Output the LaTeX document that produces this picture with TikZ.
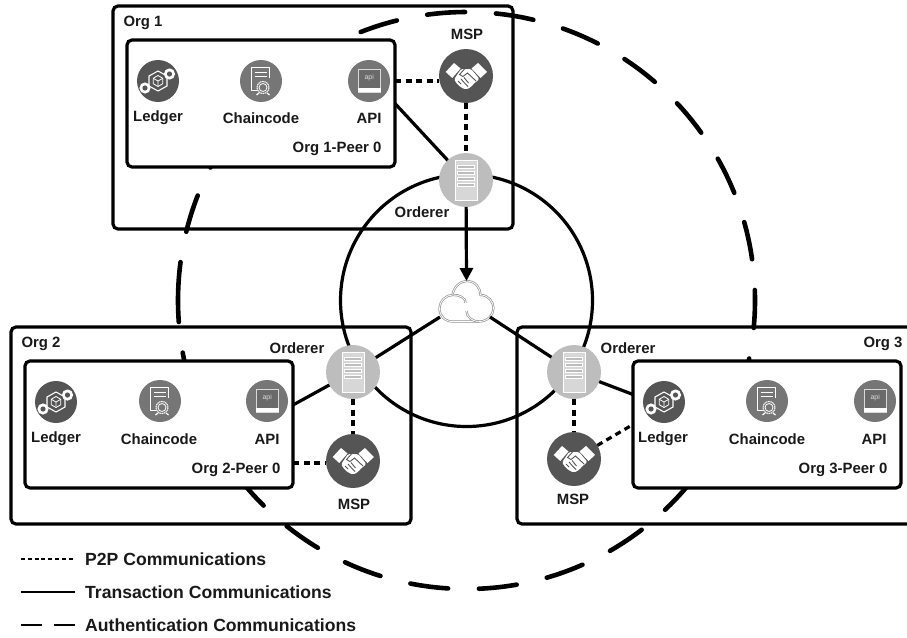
\documentclass[tikz,border=0pt]{standalone}
\usepackage{fontspec}
\setmainfont{Liberation Sans}
\usetikzlibrary{arrows.meta,shapes.geometric}
\definecolor{icondark}{HTML}{555555}
\definecolor{iconmid}{HTML}{767676}
\definecolor{iconpale}{HTML}{BDBDBD}
\tikzset{
  lbl/.style={font=\bfseries\fontsize{14.9}{16}\selectfont,text=black!90,inner sep=0pt},
  keylbl/.style={lbl,font=\bfseries\fontsize{17.6}{19}\selectfont,anchor=west},
  orgbox/.style={draw,line width=3.2pt,rounded corners=5pt,anchor=north west,inner sep=0pt,outer sep=0pt},
  peerbox/.style={orgbox,fill=white},
  iconnode/.style={circle,inner sep=0pt,outer sep=0pt,minimum size=#1},
  ledgernode/.style={iconnode=42pt,fill=icondark},
  codenode/.style={iconnode=42pt,fill=iconmid},
  apinode/.style={iconnode=42pt,fill=iconmid},
  mspnode/.style={iconnode=54pt,fill=icondark},
  ordnode/.style={iconnode=54pt,fill=iconpale},
  p2pline/.style={line width=3.2pt,dash pattern=on 6pt off 4.5pt},
  txline/.style={line width=3.2pt},
  authline/.style={line width=4.6pt,line cap=round,dash pattern=on 38pt off 30.88pt},
  ledgeric/.pic={
    \draw[white,line width=1.1pt] (0,-10) -- (9,-5) -- (9,5) -- (0,10) -- (-9,5) -- (-9,-5) -- cycle;
    \draw[white,line width=.8pt] (0,-5.5) -- (4.8,-2.7) -- (4.8,2.7) -- (0,5.5) -- (-4.8,2.7) -- (-4.8,-2.7) -- cycle;
    \draw[white,line width=.8pt] (-4.8,-2.7) -- (0,0) -- (4.8,-2.7) (0,0) -- (0,5.5);
    \fill[white] (-13,7) circle (5.6);
    \fill[icondark] (-13,7) circle (2.6);
    \fill[white] (11.5,-7) circle (5.6);
    \fill[icondark] (11.5,-7) circle (2.6);
  },
  codeic/.pic={
    \draw[white,line width=1pt,line join=round] (8.5,-3) -- (8.5,-14) -- (-9.5,-14) -- (-9.5,9.5) -- (-4,9.5);
    \draw[white,line width=1pt] (-6.5,-9) -- (6,-9) (-6.5,-5) -- (6,-5);
    \draw[white,line width=1pt,dash pattern=on 1.5pt off .6pt] (2,6.5) circle (6);
    \draw[white,line width=.8pt] (2,6.5) circle (4);
    \draw[white,line width=1.2pt] (-2,12) -- (-4.5,14) (6,12) -- (8.5,14);
  },
  apiic/.pic={
    \draw[white!85!black,line width=.8pt,fill=iconmid!90!black] (-11,-12) rectangle (11.5,11);
    \fill[white] (-11.4,6.5) rectangle (11.9,11.4);
    \node[font=\fontsize{7}{8}\selectfont,text=white!85!black,inner sep=0pt] (apilbl) at (.2,-3) {api};
  },
  mspic/.pic={
    \fill[white] (-12,-13) -- (-5.5,-7.5) -- (-13.7,2) -- (-20.3,-4) -- cycle;
    \fill[white] (12,-13) -- (5.5,-7.5) -- (14.5,2) -- (21,-4) -- cycle;
    \fill[white,rounded corners=1.5pt] (-5,-7) -- (5,-7) -- (13.5,3) -- (8,7.5) -- (5,11) -- (0,13.5) -- (-4,12) -- (-8,9) -- (-12,3.5) -- cycle;
    \draw[icondark,line width=.9pt] (-1,-7.5) -- (-6.5,-1.5) -- (-3,.5) -- (1.5,-3) -- (10,5);
    \draw[icondark,line width=.9pt] (-8,5) -- (-5,8) (-5,3) -- (-1,7.5) (-2,1.5) -- (2.5,7) (2,10.5) -- (-2,6.5);
  },
  ordic/.pic={
    \draw[white,line width=1pt,fill=iconpale!60!white] (-11,-19.5) rectangle (11,20);
    \foreach \slot in {-13.5,-7.5,-1.5,4.5}
      \draw[white,line width=.8pt,fill=iconpale] (-8.5,\slot-1.6) rectangle (8.5,\slot+1.6);
  },
  cloudic/.pic={
    \draw[gray!85,double=white,line width=.7pt,double distance=.8pt]
      (-13,19.5) .. controls (-22,20) and (-27,13) .. (-27,7.5)
      .. controls (-27,-2) and (-20,-7) .. (-14,-7)
      .. controls (-13,-15) and (-6,-21) .. (0,-21)
      .. controls (9,-21) and (14,-14) .. (14,-7)
      .. controls (22,-7) and (27,0) .. (27,6)
      .. controls (27,13) and (21,19.5) .. (13,19.5) -- cycle;
    \draw[gray!85,double=white,line width=.7pt,double distance=.8pt]
      (-14,-7) .. controls (-7,-8) and (0,-3) .. (-1,1)
      (0,9) .. controls (0,15) and (6,19.5) .. (12,19.5);
  },
}
\begin{document}
\begin{tikzpicture}[x=1pt,y=-1pt]
    \useasboundingbox (0,0) rectangle (907,637);
    \fill[white] (0,0) rectangle (907,637);

    % Organisations
    \node[orgbox,minimum width=400pt,minimum height=223pt] (orgA) at (113,6) {};
    \node[orgbox,minimum width=400pt,minimum height=197pt] (orgB) at (11,327) {};
    \node[orgbox,minimum width=410pt,minimum height=197pt] (orgC) at (517,327) {};

    % Rings
    \coordinate (hub) at (466.5,300.5);
    \draw[authline] (hub) ++(180.1:288.5) arc[start angle=180.1,delta angle=360,radius=288.5];
    \draw[txline] (hub) circle (126);

    % Peers
    \node[peerbox,minimum width=268pt,minimum height=127pt] (peerA) at (127,40) {};
    \node[peerbox,minimum width=268pt,minimum height=127pt] (peerB) at (25,361) {};
    \node[peerbox,minimum width=268pt,minimum height=127pt] (peerC) at (633,361) {};

    % Org 1
    \node[ledgernode] (ledgerA) at (158,81) {};
    \node[codenode] (codeA) at (261,81) {};
    \node[apinode] (apiA) at (369,81) {};
    \node[mspnode] (mspA) at (466,76) {};
    \node[ordnode] (ordA) at (466,180) {};
    \pic at (ledgerA) {ledgeric};
    \pic at (codeA) {codeic};
    \pic at (apiA) {apiic};
    \pic at (mspA) {mspic};
    \pic at (ordA) {ordic};
    \node[lbl] (orgAlbl) at (143,23) {Org 1};
    \node[lbl] (ledgerAlbl) at (158,118) {Ledger};
    \node[lbl] (codeAlbl) at (261,118) {Chaincode};
    \node[lbl] (apiAlbl) at (369,118) {API};
    \node[lbl] (peerAlbl) at (337,149) {Org 1-Peer 0};
    \node[lbl] (mspAlbl) at (467,34) {MSP};
    \node[lbl] (ordAlbl) at (422,212) {Orderer};

    % Org 2
    \node[ledgernode] (ledgerB) at (56,402) {};
    \node[codenode] (codeB) at (160,401) {};
    \node[apinode] (apiB) at (267,401) {};
    \node[mspnode] (mspB) at (353,461) {};
    \node[ordnode] (ordB) at (353,372) {};
    \pic at (ledgerB) {ledgeric};
    \pic at (codeB) {codeic};
    \pic at (apiB) {apiic};
    \pic at (mspB) {mspic};
    \pic at (ordB) {ordic};
    \node[lbl] (orgBlbl) at (41,344) {Org 2};
    \node[lbl] (ledgerBlbl) at (56,439) {Ledger};
    \node[lbl] (codeBlbl) at (159,439) {Chaincode};
    \node[lbl] (apiBlbl) at (267,439) {API};
    \node[lbl] (peerBlbl) at (236,470) {Org 2-Peer 0};
    \node[lbl] (mspBlbl) at (354,504) {MSP};
    \node[lbl] (ordBlbl) at (297,348) {Orderer};

    % Org 3
    \node[ledgernode] (ledgerC) at (664,402) {};
    \node[codenode] (codeC) at (767,401) {};
    \node[apinode] (apiC) at (875,401) {};
    \node[mspnode] (mspC) at (574,459) {};
    \node[ordnode] (ordC) at (574,372) {};
    \pic at (ledgerC) {ledgeric};
    \pic at (codeC) {codeic};
    \pic at (apiC) {apiic};
    \pic at (mspC) {mspic};
    \pic at (ordC) {ordic};
    \node[lbl] (orgClbl) at (883,344) {Org 3};
    \node[lbl] (ledgerClbl) at (663,439) {Ledger};
    \node[lbl] (codeClbl) at (767,439) {Chaincode};
    \node[lbl] (apiClbl) at (874,439) {API};
    \node[lbl] (peerClbl) at (843,470) {Org 3-Peer 0};
    \node[lbl] (mspClbl) at (573,499) {MSP};
    \node[lbl] (ordClbl) at (628,348) {Orderer};

    % Cloud
    \node[inner sep=0pt,outer sep=0pt,minimum width=53pt,minimum height=42pt] (cloud) at (466.5,302) {};
    \pic at (cloud) {cloudic};

    % P2P links
    \draw[p2pline] (apiA -| peerA.east) -- (mspA.west |- apiA);
    \draw[p2pline] (mspA) -- (ordA);
    \draw[p2pline] ([yshift=-38.5pt]peerB.east) -- (mspB.west |- {0,463});
    \draw[p2pline] (ordB) -- (mspB);
    \draw[p2pline] (ordC) -- (mspC);
    \draw[p2pline] (mspC) -- (peerC.west);

    % Transaction links
    \draw[txline] (peerA.east) -- (ordA);
    \draw[txline,-{Triangle[length=13pt,width=13pt]}] (ordA) -- (cloud.north);
    \draw[txline] ([yshift=6pt]cloud.south west) -- (ordB);
    \draw[txline] ([xshift=-3pt,yshift=6pt]cloud.south east) -- (ordC);
    \draw[txline] (ordB) -- ([yshift=19.5pt]peerB.east);
    \draw[txline] (ordC) -- ([yshift=30pt]peerC.west);

    % Legend
    \coordinate (keyAs) at (21,559);
    \coordinate (keyAe) at (75,559);
    \coordinate (keyBs) at (21,592);
    \coordinate (keyBe) at (75,592);
    \coordinate (keyCs) at (21,625);
    \coordinate (keyCe) at (75,625);
    \draw[line width=2.4pt,dash pattern=on 4pt off 2.8pt] (keyAs) -- (keyAe);
    \draw[line width=2.4pt] (keyBs) -- (keyBe);
    \draw[line width=2.4pt,dash pattern=on 21pt off 12pt] (keyCs) -- (keyCe);
    \node[keylbl] (keyAlbl) at (85,559) {P2P Communications};
    \node[keylbl] (keyBlbl) at (85,592) {Transaction Communications};
    \node[keylbl] (keyClbl) at (85,625) {Authentication Communications};
\end{tikzpicture}
\end{document}
